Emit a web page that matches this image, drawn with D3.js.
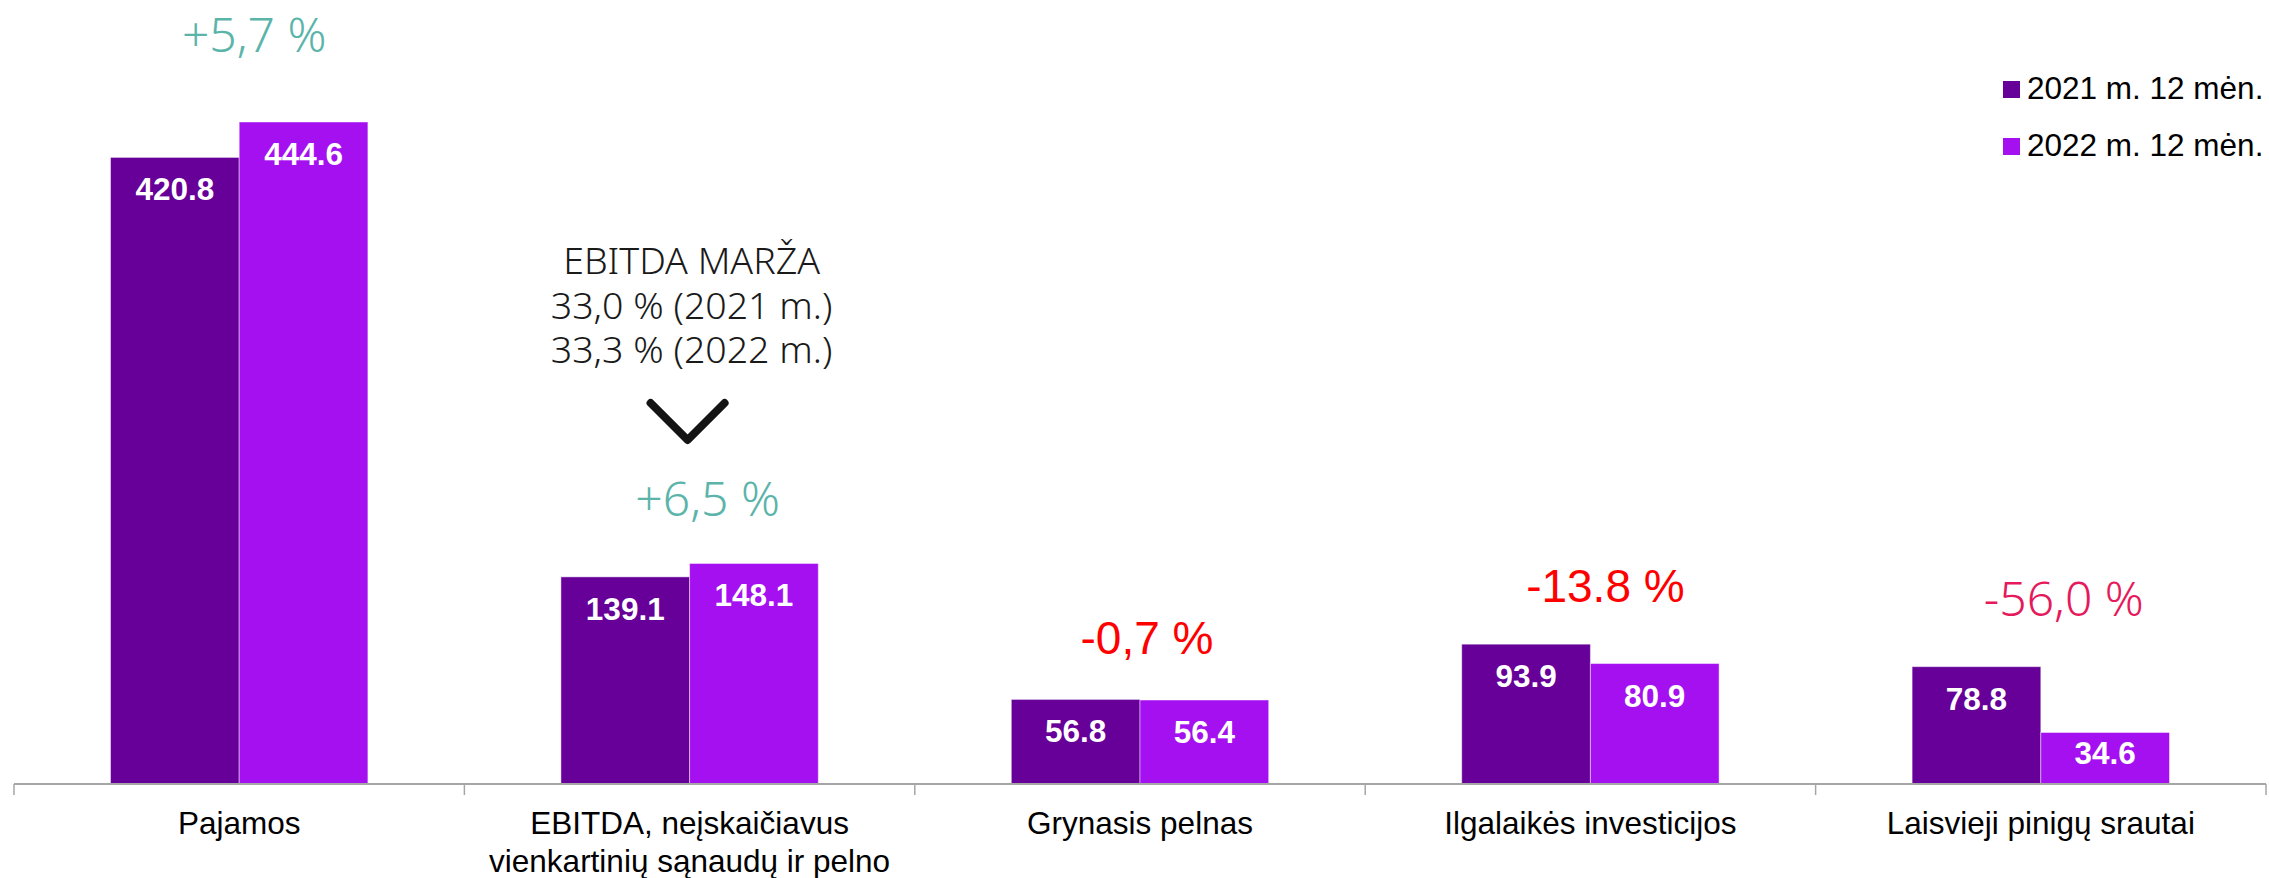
<!DOCTYPE html>
<html>
<head>
<meta charset="utf-8">
<script src="https://cdn.jsdelivr.net/npm/d3@7"></script>
<style>
  body { margin: 0; background: #fff; }
</style>
</head>
<body>
<div id="chart"></div>
<script>
// data
var categories = ["Pajamos", "EBITDA", "Grynasis pelnas", "Ilgalaikės investicijos", "Laisvieji pinigų srautai"];
var categoryLines = [
  ["Pajamos"],
  ["EBITDA, neįskaičiavus", "vienkartinių sąnaudų ir pelno"],
  ["Grynasis pelnas"],
  ["Ilgalaikės investicijos"],
  ["Laisvieji pinigų srautai"]
];
var series = ["2021 m. 12 mėn.", "2022 m. 12 mėn."];
var values2021 = [420.8, 139.1, 56.8, 93.9, 78.8];
var values2022 = [444.6, 148.1, 56.4, 80.9, 34.6];
var changes = ["+5,7 %", "+6,5 %", "-0,7 %", "-13.8 %", "-56,0 %"];
var marginLines = ["EBITDA MARŽA", "33,0 % (2021 m.)", "33,3 % (2022 m.)"];

var W = 2269, H = 878;
var colors = ["#660099", "#a510f0"];

var svg = d3.select("#chart").append("svg")
    .attr("width", W)
    .attr("height", H);

// scales
var x0 = d3.scaleBand()
    .domain(categories)
    .range([14, 2266])
    .padding(0);

var x1 = d3.scaleBand()
    .domain(series)
    .range([0, x0.bandwidth()])
    .paddingInner(0)
    .paddingOuter(0.75);

var y = d3.scaleLinear()
    .domain([0, 500])
    .range([784, 39.5]);

var rows = categories.map(function(c, i) {
  return {cat: c, vals: [
    {s: series[0], v: values2021[i]},
    {s: series[1], v: values2022[i]}
  ]};
});

// bars
var groups = svg.selectAll(".grp")
  .data(rows)
  .enter().append("g")
    .attr("transform", function(d) { return "translate(" + x0(d.cat) + ",0)"; });

groups.selectAll("rect")
  .data(function(d) { return d.vals; })
  .enter().append("rect")
    .attr("x", function(d) { return x1(d.s); })
    .attr("y", function(d) { return y(d.v); })
    .attr("width", x1.bandwidth())
    .attr("height", function(d) { return y(0) - y(d.v); })
    .style("fill", function(d, i) { return colors[i]; })
    .style("stroke", "rgba(255,255,255,0.45)")
    .style("stroke-width", 1);

// value labels
groups.selectAll(".val")
  .data(function(d) { return d.vals; })
  .enter().append("text")
    .attr("x", function(d) { return x1(d.s) + x1.bandwidth() / 2; })
    .attr("y", function(d) {
      var h = y(0) - y(d.v);
      return y(d.v) + Math.min(43, h * 0.62);
    })
    .attr("text-anchor", "middle")
    .style("font-family", "'Liberation Sans', Arial, sans-serif")
    .style("font-weight", "bold")
    .style("font-size", "31.5px")
    .style("fill", "#fff")
    .text(function(d) { return d.v.toFixed(1); });

// axis
var axis = svg.append("g")
    .attr("transform", "translate(0,784)");
axis.append("line")
    .attr("x1", x0.range()[0]).attr("x2", x0.range()[1])
    .attr("y1", 0).attr("y2", 0)
    .style("stroke", "#a6a6a6").style("stroke-width", 2);
var bounds = categories.map(function(c) { return x0(c); }).concat([x0.range()[1]]);
axis.selectAll(".tk")
  .data(bounds)
  .enter().append("line")
    .attr("x1", function(d) { return d; }).attr("x2", function(d) { return d; })
    .attr("y1", 0).attr("y2", 11)
    .style("stroke", "#a6a6a6").style("stroke-width", 1.5);

// category labels
var catLabels = svg.selectAll(".cat")
  .data(categories)
  .enter().append("text")
    .attr("text-anchor", "middle")
    .style("font-family", "'Liberation Sans', Arial, sans-serif")
    .style("font-size", "31.5px")
    .style("fill", "#000");
catLabels.selectAll("tspan")
  .data(function(d, i) { return categoryLines[i]; })
  .enter().append("tspan")
    .attr("x", function() { var c = d3.select(this.parentNode).datum(); return x0(c) + x0.bandwidth() / 2; })
    .attr("y", function(d, i) { return 834 + i * 38; })
    .text(function(d) { return d; });

// change labels
var changeColors = ["#5bb4aa", "#5bb4aa", "#ff0000", "#ff0000", "#e5195c"];
var changeFonts = ["'Noto Sans', sans-serif", "'Noto Sans', sans-serif",
                   "'Liberation Sans', Arial, sans-serif", "'Liberation Sans', Arial, sans-serif",
                   "'Noto Sans', sans-serif"];
var nudge = [[0, -25], [3, -2], [-8, 0], [0, 3], [8, -6]];
svg.selectAll(".chg")
  .data(changes)
  .enter().append("text")
    .attr("x", function(d, i) { return x0(categories[i]) + x0.bandwidth() / 2 + 15 + nudge[i][0]; })
    .attr("y", function(d, i) { return y(Math.max(values2021[i], values2022[i])) - 45 + nudge[i][1]; })
    .attr("text-anchor", "middle")
    .style("font-family", function(d, i) { return changeFonts[i]; })
    .style("font-weight", 300)
    .style("font-size", function(d, i) { return i === 2 || i === 3 ? "46px" : "48px"; })
    .style("fill", function(d, i) { return changeColors[i]; })
    .text(function(d) { return d; });

// EBITDA margin note
var cx = x0(categories[1]) + x0.bandwidth() / 2;
svg.append("g").selectAll("text")
  .data(marginLines)
  .enter().append("text")
    .attr("x", cx + 2)
    .attr("y", function(d, i) { return 274 + i * 44.5; })
    .attr("text-anchor", "middle")
    .style("font-family", "'Noto Sans', sans-serif")
    .style("font-weight", 300)
    .style("font-size", "37.5px")
    .style("fill", "#1a1a1a")
    .text(function(d) { return d; });

svg.append("path")
    .attr("d", d3.line()([[cx - 39, 403], [cx - 2, 440], [cx + 35, 403]]))
    .style("fill", "none")
    .style("stroke", "#141414")
    .style("stroke-width", 8)
    .style("stroke-linecap", "round")
    .style("stroke-linejoin", "round");

// legend
var legend = svg.append("g")
    .attr("transform", "translate(2003,81)");
var li = legend.selectAll("g")
  .data(series)
  .enter().append("g")
    .attr("transform", function(d, i) { return "translate(0," + i * 57 + ")"; });
li.append("rect")
    .attr("width", 17).attr("height", 17)
    .style("fill", function(d, i) { return colors[i]; });
li.append("text")
    .attr("x", 24).attr("y", 18)
    .style("font-family", "'Liberation Sans', Arial, sans-serif")
    .style("font-size", "31.5px")
    .style("fill", "#000")
    .text(function(d) { return d; });
</script>
</body>
</html>
